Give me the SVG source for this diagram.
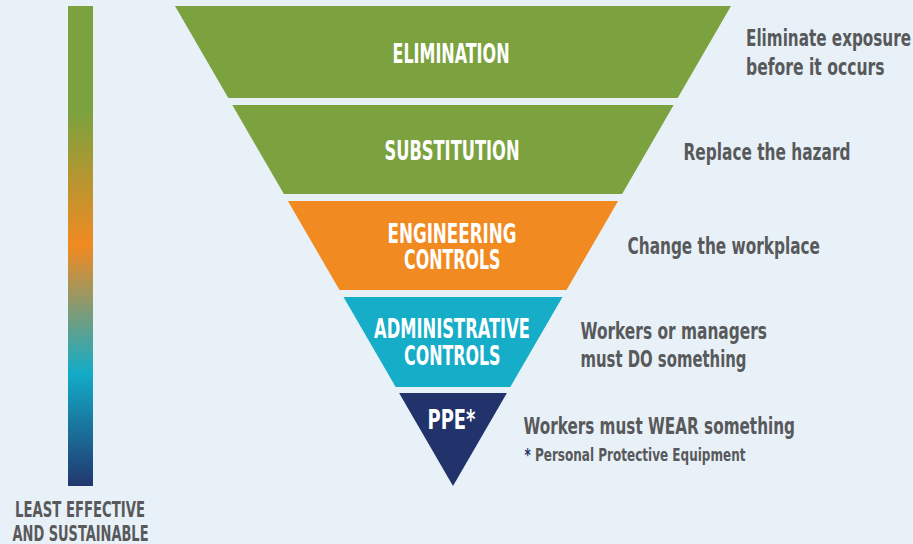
<svg xmlns="http://www.w3.org/2000/svg" width="913" height="544" viewBox="0 0 913 544">
  <defs>
    <linearGradient id="barGrad" x1="0" y1="0" x2="0" y2="1">
      <stop offset="0" stop-color="#7ba23f"/>
      <stop offset="0.22" stop-color="#7ba23f"/>
      <stop offset="0.5" stop-color="#f18a21"/>
      <stop offset="0.765" stop-color="#13acc8"/>
      <stop offset="1" stop-color="#21376f"/>
    </linearGradient>
    <style>
      .lbl { font-family: "Liberation Sans Narrow", "DejaVu Sans Condensed", "Liberation Sans", sans-serif; font-weight: bold; fill: #ffffff; font-size: 26px; }
      .desc { font-family: "Liberation Sans Narrow", "DejaVu Sans Condensed", "Liberation Sans", sans-serif; font-weight: bold; fill: #58595b; font-size: 23px; }
      .note { font-family: "Liberation Sans Narrow", "DejaVu Sans Condensed", "Liberation Sans", sans-serif; font-weight: bold; fill: #58595b; font-size: 17px; }
      .axis { font-family: "Liberation Sans Narrow", "DejaVu Sans Condensed", "Liberation Sans", sans-serif; font-weight: bold; fill: #58595b; font-size: 21px; }
    </style>
  </defs>
  <rect x="0" y="0" width="913" height="544" fill="#e8f1f8"/>

  <g id="scale-bar">
    <rect x="68" y="6" width="25" height="480" fill="url(#barGrad)"/>
    <text class="axis" x="15" y="516.5" textLength="130" lengthAdjust="spacingAndGlyphs">LEAST EFFECTIVE</text>
    <text class="axis" x="12.5" y="541" textLength="136" lengthAdjust="spacingAndGlyphs">AND SUSTAINABLE</text>
  </g>

  <g id="elimination">
    <polygon points="175,6 731,6 677.7,98 228.3,98" fill="#7ba23f"/>
    <text class="lbl" x="392.5" y="63" textLength="117" lengthAdjust="spacingAndGlyphs">ELIMINATION</text>
    <text class="desc" x="746" y="46" textLength="165" lengthAdjust="spacingAndGlyphs">Eliminate exposure</text>
    <text class="desc" x="746" y="75" textLength="138.5" lengthAdjust="spacingAndGlyphs">before it occurs</text>
  </g>

  <g id="substitution">
    <polygon points="232.3,105 673.7,105 622.1,194 283.9,194" fill="#7ba23f"/>
    <text class="lbl" x="384.5" y="160" textLength="135" lengthAdjust="spacingAndGlyphs">SUBSTITUTION</text>
    <text class="desc" x="683.5" y="160" textLength="167" lengthAdjust="spacingAndGlyphs">Replace the hazard</text>
  </g>

  <g id="engineering-controls">
    <polygon points="287.9,201 618.1,201 566.5,290 339.5,290" fill="#f18a21"/>
    <text class="lbl" x="387.5" y="243" textLength="129" lengthAdjust="spacingAndGlyphs">ENGINEERING</text>
    <text class="lbl" x="404" y="268.5" textLength="96.5" lengthAdjust="spacingAndGlyphs">CONTROLS</text>
    <text class="desc" x="627.5" y="253.5" textLength="192.5" lengthAdjust="spacingAndGlyphs">Change the workplace</text>
  </g>

  <g id="administrative-controls">
    <polygon points="343.5,297 562.5,297 510.3,387 395.7,387" fill="#15adc7"/>
    <text class="lbl" x="374" y="338" textLength="156" lengthAdjust="spacingAndGlyphs">ADMINISTRATIVE</text>
    <text class="lbl" x="404" y="364.5" textLength="96.5" lengthAdjust="spacingAndGlyphs">CONTROLS</text>
    <text class="desc" x="580.5" y="338.5" textLength="186.5" lengthAdjust="spacingAndGlyphs">Workers or managers</text>
    <text class="desc" x="580.5" y="366.5" textLength="166" lengthAdjust="spacingAndGlyphs">must DO something</text>
  </g>

  <g id="ppe">
    <polygon points="399.1,393 506.9,393 453,486" fill="#22326a"/>
    <text class="lbl" x="427.5" y="428.5" textLength="48" lengthAdjust="spacingAndGlyphs">PPE*</text>
    <text class="desc" x="523.5" y="433.5" textLength="271.5" lengthAdjust="spacingAndGlyphs">Workers must WEAR something</text>
    <text class="note" x="524.5" y="461" textLength="221" lengthAdjust="spacingAndGlyphs"><tspan fill="#22326a">*</tspan> Personal Protective Equipment</text>
  </g>

  <g id="connectors"/>
</svg>
